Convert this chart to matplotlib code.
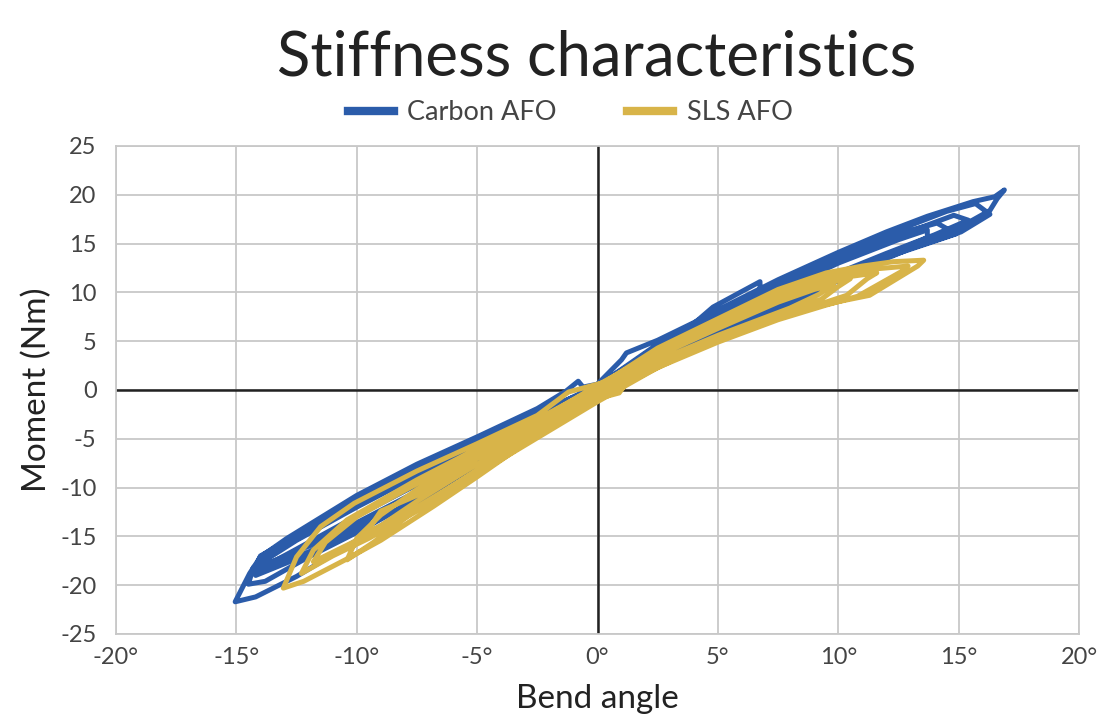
import matplotlib
matplotlib.use('Agg')
from matplotlib import pyplot as plt
import numpy as np

# bend angle (deg), moment (Nm) - one list of points per test cycle
carbon_c1 = [(0.0, 0.6), (1.0, 3.1), (1.2, 3.8), (2.5, 5.1), (4.0, 6.9), (5.0, 8.2), (7.5, 11.3),
             (10.0, 14.1), (12.0, 16.2), (13.7, 17.8), (15.6, 19.3), (16.5, 19.8), (16.9, 20.5),
             (16.6, 19.6), (16.3, 18.4), (15.0, 16.6), (14.3, 15.7), (12.5, 14.2), (10.0, 11.7),
             (7.5, 8.9), (5.0, 5.9), (2.5, 3.0), (1.0, 1.2), (0.0, -0.6), (-2.5, -4.4), (-5.0, -8.1),
             (-7.5, -11.7), (-10.0, -15.4), (-12.5, -19.1), (-14.2, -21.2), (-15.05, -21.7),
             (-14.45, -18.8), (-14.0, -17.1), (-12.9, -15.2), (-10.0, -10.8), (-7.5, -7.6),
             (-5.0, -4.8), (-2.5, -1.9), (-1.3, -0.1), (-0.8, 0.9), (-0.6, 0.3), (0.0, 0.6)]
carbon_c2 = [(0.1, 0.4), (2.5, 4.6), (5.0, 7.8), (7.5, 10.9), (10.0, 13.8), (12.5, 16.4), (14.5, 18.3),
             (15.7, 19.1), (16.3, 18.0), (15.1, 16.2), (13.0, 14.5), (10.0, 11.4), (7.5, 8.6),
             (5.0, 5.6), (2.5, 2.7), (0.0, -0.9), (-2.5, -4.1), (-5.0, -7.7), (-7.5, -11.2),
             (-10.0, -14.6), (-12.0, -17.1), (-13.8, -19.6), (-14.5, -19.9), (-14.3, -18.2),
             (-13.5, -16.6), (-12.0, -14.4), (-10.0, -11.2), (-7.5, -8.0), (-5.0, -5.1),
             (-2.5, -2.3), (0.1, 0.4)]
carbon_c3 = [(0.0, 0.5), (2.5, 4.4), (5.0, 7.5), (7.5, 10.6), (10.0, 13.5), (12.5, 16.0), (14.1, 17.1),
             (14.9, 16.0), (13.7, 15.0), (12.0, 13.6), (10.0, 11.2), (7.5, 8.3), (5.0, 5.3),
             (2.5, 2.5), (0.0, -1.1), (-2.5, -4.0), (-5.0, -7.4), (-7.5, -10.8), (-10.0, -14.0),
             (-12.0, -16.6), (-14.3, -18.6), (-14.0, -17.0), (-12.5, -14.9), (-10.0, -11.5),
             (-7.5, -8.3), (-5.0, -5.3), (-2.5, -2.5), (0.0, 0.5)]
carbon_c4 = [(0.0, 0.4), (2.5, 4.7), (4.0, 6.8), (4.8, 8.5), (6.75, 11.1), (6.75, 10.1), (5.0, 7.2),
             (2.5, 3.6), (0.0, -0.4), (-2.5, -3.7), (-5.0, -7.0), (-7.5, -10.4), (-10.0, -13.6),
             (-12.0, -16.0), (-13.9, -18.0), (-13.7, -17.0), (-12.0, -14.6), (-10.0, -11.8),
             (-7.5, -8.5), (-5.0, -5.5), (-2.5, -2.6), (0.0, 0.4)]
carbon_c5 = [(0.0, 0.3), (2.5, 4.0), (5.0, 7.0), (7.5, 10.1), (10.0, 13.0), (12.5, 15.4), (13.7, 16.4),
             (13.7, 15.6), (12.0, 13.8), (10.0, 11.5), (7.5, 8.4), (5.0, 5.4), (2.5, 2.4),
             (0.0, -0.8), (-2.5, -4.2), (-5.0, -7.6), (-7.5, -11.0), (-10.0, -14.3), (-12.5, -17.3),
             (-14.2, -19.0), (-13.9, -17.6), (-12.5, -15.4), (-10.0, -12.0), (-7.5, -8.8),
             (-5.0, -5.8), (-2.5, -2.9), (0.0, 0.3)]
carbon_c6 = [(0.0, 0.2), (2.5, 4.2), (5.0, 7.3), (7.5, 10.4), (10.0, 13.3), (12.5, 15.8), (14.8, 17.9),
             (15.4, 17.4), (14.0, 15.9), (12.0, 14.0), (10.0, 12.0), (7.5, 9.2), (5.0, 6.2),
             (2.5, 3.2), (0.0, -0.5), (-2.5, -3.4), (-5.0, -6.5), (-7.5, -9.7), (-10.0, -12.9),
             (-12.5, -16.3), (-14.0, -18.3), (-13.4, -16.4), (-11.5, -13.6), (-10.0, -11.6),
             (-7.5, -8.1), (-5.0, -5.2), (-2.5, -2.2), (0.0, 0.2)]

sls_c1 = [(0.3, 0.8), (2.5, 4.3), (4.0, 6.1), (5.0, 7.3), (7.5, 10.3), (9.5, 12.0), (11.0, 12.7),
          (12.3, 13.15), (13.55, 13.3), (13.3, 12.7), (11.3, 9.7), (10.0, 9.05), (7.3, 7.5),
          (4.0, 4.1), (1.2, 0.7), (0.9, -0.3), (0.0, -0.9), (-2.5, -4.6), (-5.0, -8.9), (-6.8, -11.9),
          (-9.0, -15.4), (-10.4, -17.3), (-12.2, -19.6), (-13.05, -20.3), (-12.5, -17.1),
          (-11.5, -14.0), (-10.1, -11.6), (-7.5, -8.3), (-5.0, -5.5), (-2.5, -2.6), (-1.2, -0.2),
          (0.3, 0.8)]
sls_c2 = [(0.2, 0.6), (2.5, 4.1), (5.0, 7.0), (7.5, 10.0), (9.5, 11.6), (11.5, 12.4), (12.9, 12.7),
          (12.6, 12.1), (10.8, 9.6), (9.5, 8.7), (7.5, 7.2), (5.0, 4.9), (2.5, 2.3), (0.0, -1.2),
          (-2.5, -4.9), (-5.0, -8.6), (-7.5, -12.4), (-9.5, -15.2), (-11.0, -17.0), (-12.3, -18.8),
          (-11.8, -16.4), (-10.4, -13.3), (-7.5, -9.2), (-5.0, -6.0), (-2.5, -3.0), (0.2, 0.6)]
sls_c3 = [(0.0, 0.5), (2.5, 3.9), (5.0, 6.8), (7.5, 9.6), (9.5, 11.3), (11.6, 12.0), (11.2, 11.4),
          (10.35, 9.7), (9.0, 8.6), (7.5, 7.4), (5.0, 5.1), (2.5, 2.5), (0.0, -1.0), (-2.5, -4.7),
          (-5.0, -8.3), (-7.5, -12.0), (-9.5, -14.8), (-11.8, -17.6), (-11.3, -15.6), (-10.0, -13.0),
          (-7.5, -9.6), (-5.0, -6.3), (-2.5, -3.2), (0.0, 0.5)]
sls_c4 = [(0.0, 0.4), (2.5, 3.7), (5.0, 6.6), (7.5, 9.3), (9.2, 10.8), (10.5, 11.4), (10.0, 10.6),
          (9.3, 9.3), (7.5, 7.7), (5.0, 5.3), (2.5, 2.7), (0.0, -0.7), (-2.5, -4.4), (-5.0, -8.2),
          (-7.5, -12.2), (-9.3, -15.6), (-10.4, -17.4), (-10.0, -15.2), (-9.0, -12.8), (-7.5, -10.2),
          (-5.0, -6.6), (-2.5, -3.4), (0.0, 0.4)]
sls_c5 = [(0.1, 0.3), (2.5, 3.5), (5.0, 6.3), (7.5, 9.0), (9.0, 10.3), (9.8, 10.8), (9.2, 9.8),
          (8.0, 8.4), (5.0, 5.6), (2.5, 3.0), (0.0, -0.4), (-2.5, -4.0), (-5.0, -7.6), (-7.5, -11.4),
          (-9.0, -13.9), (-9.6, -14.6), (-9.0, -12.4), (-7.5, -10.8), (-5.0, -7.0), (-2.5, -3.7),
          (0.1, 0.3)]

x_ticks = [-20, -15, -10, -5, 0, 5, 10, 15, 20]
x_labels = ['-20°', '-15°', '-10°', '-5°', '0°', '5°', '10°', '15°', '20°']
y_ticks = [-25, -20, -15, -10, -5, 0, 5, 10, 15, 20, 25]

blue = '#2b5caa'
gold = '#d8b449'
grid_c = '#c8c8c8'

plt.rcParams['font.family'] = ['Lato', 'DejaVu Sans']
plt.rcParams['axes.unicode_minus'] = False

fig = plt.figure(figsize=(11.02, 7.24), dpi=100)
ax = fig.add_axes([116 / 1102, 1 - 634 / 724, (1079 - 116) / 1102, (634 - 146) / 724])

carbon = np.array(carbon_c1 + carbon_c2 + carbon_c3 + carbon_c4 + carbon_c5 + carbon_c6)
sls = np.array(sls_c1 + sls_c2 + sls_c3 + sls_c4 + sls_c5)

ax.plot(carbon[:, 0], carbon[:, 1], color=blue, lw=3.6, solid_joinstyle='round', label='Carbon AFO', zorder=3)
ax.plot(sls[:, 0], sls[:, 1], color=gold, lw=3.6, solid_joinstyle='round', label='SLS AFO', zorder=4)

ax.axhline(0, color='#222222', lw=1.8, zorder=2)
ax.axvline(0, color='#222222', lw=1.8, zorder=2)

ax.set_xlim(-20, 20)
ax.set_ylim(-25, 25)
ax.set_xticks(x_ticks)
ax.set_xticklabels(x_labels)
ax.set_yticks(y_ticks)
ax.grid(True, color=grid_c, lw=1.3)
ax.set_axisbelow(True)
for s in ax.spines.values():
    s.set_color(grid_c)
    s.set_linewidth(1.3)
ax.tick_params(length=0, labelsize=17, labelcolor='#444444')
ax.tick_params(axis='y', pad=14)
ax.tick_params(axis='x', pad=9)

ax.set_xlabel('Bend angle', fontsize=24, color='#222222', labelpad=12)
ax.set_ylabel('Moment (Nm)', fontsize=24, color='#222222', labelpad=6)

fig.text(597 / 1102, 1 - 58 / 724, 'Stiffness characteristics', fontsize=44.5, color='#222222',
         ha='center', va='center')

leg = fig.legend(loc='center', bbox_to_anchor=(570 / 1102, 1 - 113 / 724), ncol=2, frameon=False,
                 fontsize=19.5, handlelength=1.7, columnspacing=2.6, handletextpad=0.5,
                 labelcolor='#444444')
for h in leg.get_lines():
    h.set_linewidth(6)

fig.savefig('out.png', dpi=100)
